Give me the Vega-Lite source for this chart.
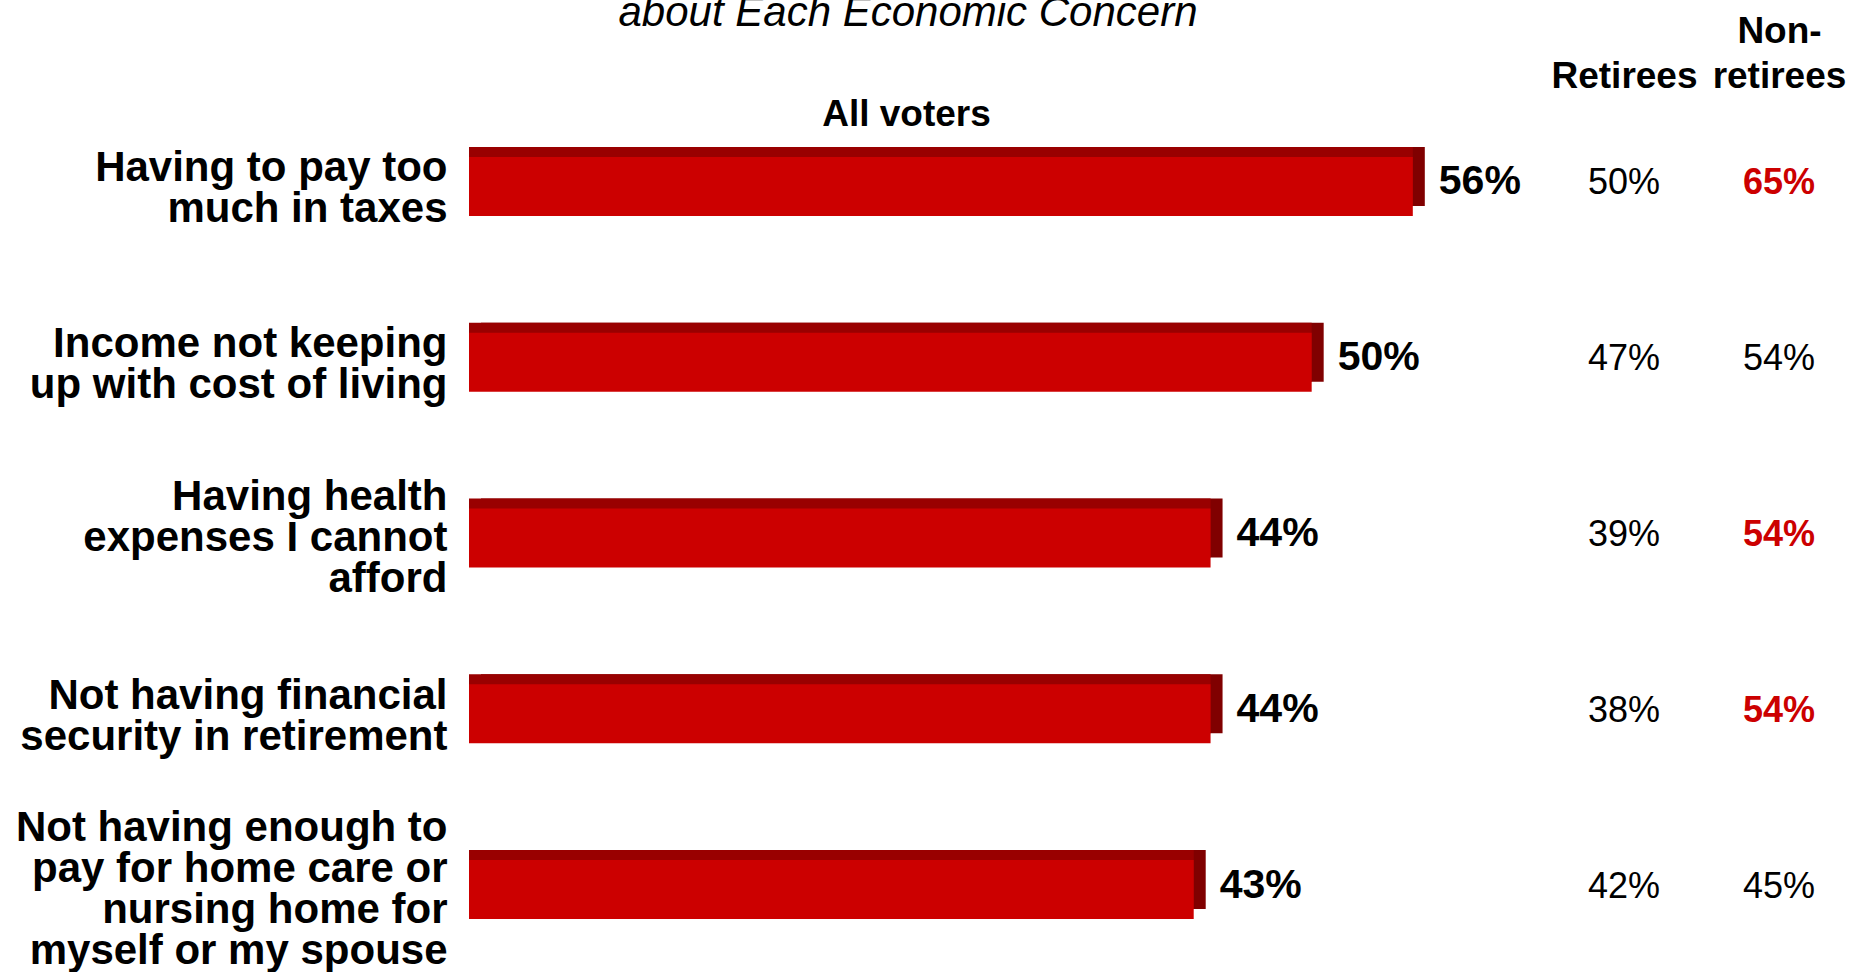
{
  "$schema": "https://vega.github.io/schema/vega-lite/v6.json",
  "autosize": {"type": "none"},
  "width": 1382,
  "height": 868,
  "padding": {"left": 469, "top": 104, "right": 0, "bottom": 0},
  "background": "white",
  "config": {"view": {"stroke": null}, "font": "Liberation Sans"},
  "title": {
    "text": "about Each Economic Concern",
    "fontSize": 42,
    "fontStyle": "italic",
    "fontWeight": "normal",
    "font": "Liberation Sans",
    "color": "black",
    "anchor": "middle",
    "frame": "group",
    "dx": -252,
    "dy": 27
  },
  "datasets": {
    "main": [
      {"concern": "Having to pay too|much in taxes", "pct": 0.56},
      {"concern": "Income not keeping|up with cost of living", "pct": 0.50},
      {"concern": "Having health|expenses I cannot|afford", "pct": 0.44},
      {"concern": "Not having financial|security in retirement", "pct": 0.44},
      {"concern": "Not having enough to|pay for home care or|nursing home for|myself or my spouse", "pct": 0.43}
    ],
    "groups": [
      {"concern": "Having to pay too|much in taxes", "group": "Retirees", "pct": 0.50, "highlight": false},
      {"concern": "Having to pay too|much in taxes", "group": "Non-retirees", "pct": 0.65, "highlight": true},
      {"concern": "Income not keeping|up with cost of living", "group": "Retirees", "pct": 0.47, "highlight": false},
      {"concern": "Income not keeping|up with cost of living", "group": "Non-retirees", "pct": 0.54, "highlight": false},
      {"concern": "Having health|expenses I cannot|afford", "group": "Retirees", "pct": 0.39, "highlight": false},
      {"concern": "Having health|expenses I cannot|afford", "group": "Non-retirees", "pct": 0.54, "highlight": true},
      {"concern": "Not having financial|security in retirement", "group": "Retirees", "pct": 0.38, "highlight": false},
      {"concern": "Not having financial|security in retirement", "group": "Non-retirees", "pct": 0.54, "highlight": true},
      {"concern": "Not having enough to|pay for home care or|nursing home for|myself or my spouse", "group": "Retirees", "pct": 0.42, "highlight": false},
      {"concern": "Not having enough to|pay for home care or|nursing home for|myself or my spouse", "group": "Non-retirees", "pct": 0.45, "highlight": false}
    ]
  },
  "encoding": {
    "y": {
      "field": "concern",
      "type": "nominal",
      "scale": {
        "type": "band",
        "domain": [
          "Having to pay too|much in taxes",
          "Income not keeping|up with cost of living",
          "Having health|expenses I cannot|afford",
          "Not having financial|security in retirement",
          "Not having enough to|pay for home care or|nursing home for|myself or my spouse"
        ],
        "paddingInner": 0.664,
        "paddingOuter": 0.3014
      },
      "axis": {
        "orient": "left",
        "title": null,
        "domain": false,
        "ticks": false,
        "tickSize": 0,
        "grid": false,
        "labelPadding": 22,
        "labelFont": "Liberation Sans",
        "labelFontSize": 42,
        "labelFontWeight": "bold",
        "labelColor": "black",
        "labelLimit": 1000,
        "labelLineHeight": 41,
        "labelAlign": "right",
        "labelBaseline": "middle",
        "labelOffset": {
          "condition": [
            {"test": "length(split(datum.value, '|')) == 3", "value": -41},
            {"test": "length(split(datum.value, '|')) == 4", "value": -61.5}
          ],
          "value": -18
        },
        "labelExpr": "split(datum.label, '|')"
      }
    }
  },
  "resolve": {"scale": {"x": "independent"}, "axis": {"x": "independent"}},
  "layer": [
    {
      "data": {"name": "main"},
      "encoding": {
        "x": {
          "field": "pct",
          "type": "quantitative",
          "scale": {"domain": [0, 0.82], "nice": false, "zero": true},
          "axis": {
            "orient": "top",
            "labels": false,
            "ticks": false,
            "tickSize": 0,
            "domain": false,
            "grid": false,
            "title": "All voters",
            "titleFont": "Liberation Sans",
            "titleFontSize": 37,
            "titleFontWeight": "bold",
            "titleColor": "black",
            "titleX": 437,
            "titleY": 21,
            "titleAlign": "center",
            "titleBaseline": "alphabetic"
          }
        }
      },
      "layer": [
        {"mark": {"type": "bar", "color": "#800000", "xOffset": 12, "x2Offset": 12, "yOffset": -10}},
        {"mark": {"type": "bar", "color": "#990000", "x2Offset": 6, "yOffset": -10}},
        {"mark": {"type": "bar", "color": "#cc0000"}},
        {
          "mark": {"type": "text", "align": "left", "baseline": "middle", "dx": 26, "dy": -4, "fontSize": 41, "fontWeight": "bold", "font": "Liberation Sans", "color": "black"},
          "encoding": {"text": {"field": "pct", "type": "quantitative", "format": ".0%"}}
        }
      ]
    },
    {
      "data": {"name": "groups"},
      "encoding": {
        "x": {
          "field": "group",
          "type": "nominal",
          "scale": {"type": "point", "domain": ["Retirees", "Non-retirees"], "range": [1155, 1310], "padding": 0},
          "axis": {
            "orient": "top",
            "title": null,
            "domain": false,
            "ticks": false,
            "tickSize": 0,
            "grid": false,
            "labelAngle": 0,
            "labelAlign": "center",
            "labelBaseline": "alphabetic",
            "labelPadding": 61.7,
            "labelFont": "Liberation Sans",
            "labelFontSize": 37,
            "labelFontWeight": "bold",
            "labelColor": "black",
            "labelLineHeight": 45,
            "labelLimit": 1000,
            "labelOverlap": false,
            "labelFlush": false,
            "labelExpr": "datum.value == 'Non-retirees' ? ['Non-', 'retirees'] : ['', datum.label]"
          }
        },
        "text": {"field": "pct", "type": "quantitative", "format": ".0%"}
      },
      "layer": [
        {
          "transform": [{"filter": "!datum.highlight"}],
          "mark": {"type": "text", "align": "center", "baseline": "middle", "dy": -3, "fontSize": 36, "fontWeight": "normal", "font": "Liberation Sans", "color": "black"}
        },
        {
          "transform": [{"filter": "datum.highlight"}],
          "mark": {"type": "text", "align": "center", "baseline": "middle", "dy": -3, "fontSize": 36, "fontWeight": "bold", "font": "Liberation Sans", "color": "#cc0000"}
        }
      ]
    }
  ]
}
